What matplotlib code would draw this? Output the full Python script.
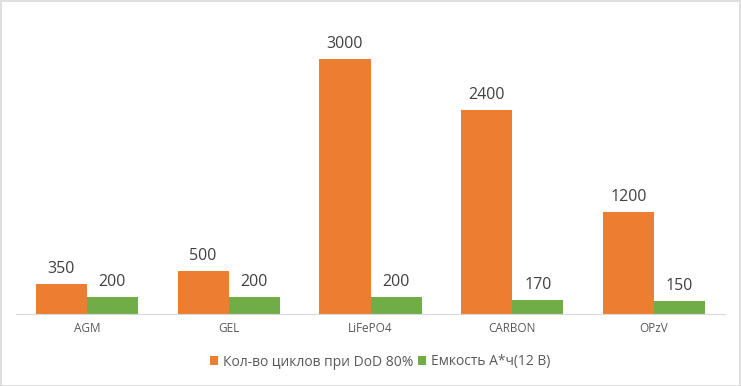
import matplotlib
matplotlib.use("Agg")
import matplotlib.pyplot as plt
import numpy as np
from matplotlib.patches import Rectangle

categories = ["AGM", "GEL", "LiFePO4", "CARBON", "OPzV"]
cycles = [350, 500, 3000, 2400, 1200]
capacity = [200, 200, 200, 170, 150]
series_names = ["Кол-во циклов при DoD 80%", "Емкость А*ч(12 В)"]

plt.rcParams['font.family'] = ['Open Sans', 'DejaVu Sans']
W, H = 741, 386
fig = plt.figure(figsize=(W/100, H/100), dpi=100)
ax = fig.add_axes([16/W, 72/H, (725-16)/W, (314-16)/H])

x = np.arange(len(categories))
bw = 0.36
c1, c2 = "#ED7D31", "#70AD47"
b1 = ax.bar(x - bw/2, cycles, bw, color=c1, label=series_names[0])
b2 = ax.bar(x + bw/2, capacity, bw, color=c2, label=series_names[1])
for bars, vals in ((b1, cycles), (b2, capacity)):
    for r, v in zip(bars, vals):
        ax.annotate(str(v), (r.get_x() + r.get_width()/2, r.get_height()),
                    xytext=(0, 5), textcoords="offset points", ha="center", va="bottom",
                    fontsize=11.5, color="#404040")

ax.set_xlim(-0.5, len(categories) - 0.5)
ax.set_ylim(0, 3500)
ax.set_yticks([])
ax.set_xticks(x)
ax.set_xticklabels(categories, fontsize=8.5, color="#595959")
ax.tick_params(axis="x", length=0, pad=6)
for s in ["top", "left", "right"]:
    ax.spines[s].set_visible(False)
ax.spines["bottom"].set_color("#D9D9D9")

leg = fig.legend(handles=[b1, b2], loc="center", bbox_to_anchor=(380/W, 1 - 362/H),
                 ncol=2, frameon=False, fontsize=10, handlelength=0.6, handleheight=0.6,
                 handletextpad=0.35, columnspacing=0.3, labelcolor="#595959")

fig.add_artist(Rectangle((0.5/W, 0.5/H), 1 - 1.5/W, 1 - 1.5/H, transform=fig.transFigure,
                         fill=False, edgecolor="#D9D9D9", linewidth=1.2))
fig.savefig("out.png", dpi=100)
